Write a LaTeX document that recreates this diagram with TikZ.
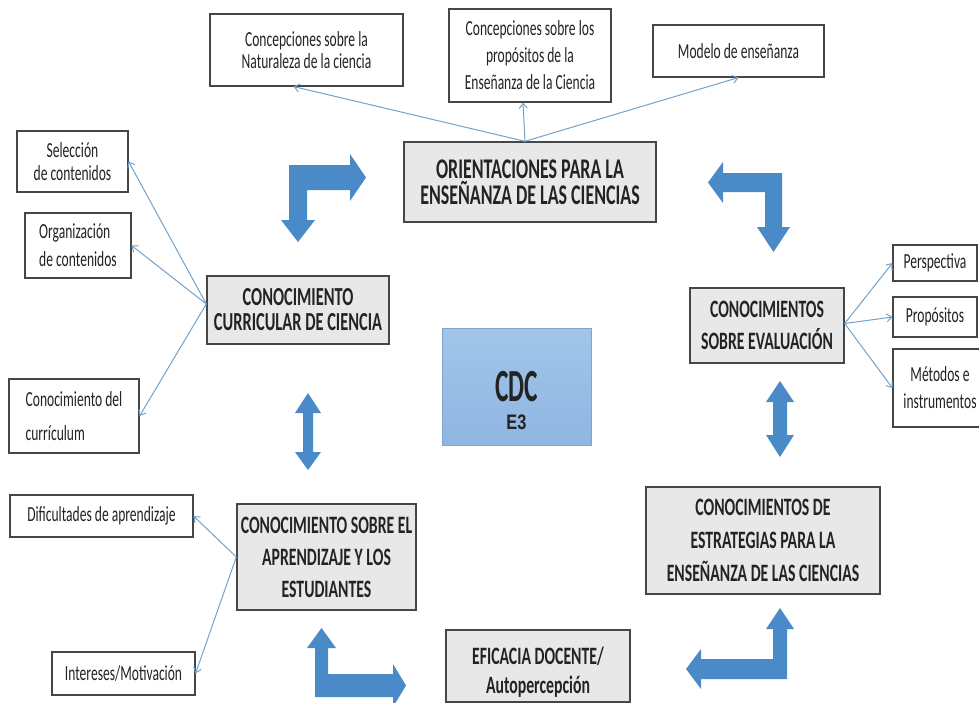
\documentclass[tikz,border=0pt]{standalone}
\usepackage{fontspec}
\setmainfont{Carlito}[FakeStretch=0.63]
\newfontfamily\cdcfont{Carlito}[FakeStretch=0.55]
\newfontfamily\arialfont{Liberation Sans}[FakeStretch=0.78]
\usetikzlibrary{arrows.meta}
\definecolor{arrowblue}{RGB}{74,138,200}
\definecolor{linkblue}{RGB}{115,162,203}
\definecolor{boxgray}{RGB}{232,232,232}
\definecolor{boxedge}{RGB}{70,70,70}
\definecolor{cdctop}{RGB}{162,197,234}
\definecolor{cdcbot}{RGB}{143,181,225}
\definecolor{cdcedge}{RGB}{128,164,205}
\definecolor{txt}{RGB}{35,35,35}
\begin{document}
\begin{tikzpicture}[x=1pt,y=-1pt,
  sz/.style 2 args={minimum width=#1pt,minimum height=#2pt},
  smallbox/.style={draw=boxedge, line width=1.1pt, fill=white, text=txt, inner sep=0pt, align=center, font=\fontsize{21.5}{25}\selectfont},
  mainbox/.style={draw=boxedge, line width=1.4pt, fill=boxgray, text=txt, inner sep=0pt, align=center, font=\fontsize{25}{32}\selectfont\bfseries},
  boxlabel/.style={text=txt, inner sep=0pt, align=center},
  link/.style={draw=linkblue, line width=1pt, -{Straight Barb[length=5pt,width=8pt]}},
  blockarrow/.style={fill=arrowblue, draw=none}]
\clip (0,0) rectangle (979,702);
\fill[white] (0,0) rectangle (979,702);

% top small boxes
\node[smallbox, sz={193}{72}, font=\fontsize{21.5}{22}\selectfont] (nat) at (306.5,50) {Concepciones sobre la\\Naturaleza de la ciencia};
\node[smallbox, sz={162}{93}, font=\fontsize{21.5}{27}\selectfont] (prop) at (530,55.5) {Concepciones sobre los\\propósitos de la\\Enseñanza de la Ciencia};
\node[smallbox, sz={171}{52}] (mod) at (738.5,51) {Modelo de enseñanza};

% main boxes
\node[mainbox, sz={252}{80}, font=\fontsize{28.5}{26}\selectfont\bfseries] (ori) at (530,182) {ORIENTACIONES PARA LA\\ENSEÑANZA DE LAS CIENCIAS};
\node[mainbox, sz={182}{68}, font=\fontsize{26}{25}\selectfont\bfseries] (ccc) at (298,310) {CONOCIMIENTO\\CURRICULAR DE CIENCIA};
\node[mainbox, sz={154}{75}] (eva) at (767,325.5) {CONOCIMIENTOS\\SOBRE EVALUACIÓN};
\node[mainbox, sz={179}{106}] (apr) at (326.5,557) {CONOCIMIENTO SOBRE EL\\APRENDIZAJE Y LOS\\ESTUDIANTES};
\node[mainbox, sz={234}{107}, font=\fontsize{25}{33}\selectfont\bfseries] (est) at (763,540.5) {CONOCIMIENTOS DE\\ESTRATEGIAS PARA LA\\ENSEÑANZA DE LAS CIENCIAS};
\node[mainbox, sz={184}{72}] (efi) at (538,666) {};
\node[boxlabel, font=\fontsize{25}{29}\selectfont\bfseries, yshift=-6pt] (efilabel) at (efi.center) {EFICACIA DOCENTE/\\Autopercepción};

% left small boxes
\node[smallbox, sz={111}{61}, font=\fontsize{21.5}{23}\selectfont] (sel) at (72.5,161.5) {Selección\\de contenidos};
\node[smallbox, sz={106}{65}, font=\fontsize{21.5}{28}\selectfont, align=left] (org) at (78,245.5) {Organización\\de contenidos};
\node[smallbox, sz={130}{74}, font=\fontsize{21.5}{34}\selectfont, align=left] (cur) at (74,416) {Conocimiento del\\currículum};
\node[smallbox, sz={183}{42}] (dif) at (101.5,516) {Dificultades de aprendizaje};
\node[smallbox, sz={143}{43}] (int) at (123.5,673.5) {Intereses/Motivación};

% right small boxes
\node[smallbox, sz={84}{36}] (per) at (935,263) {Perspectiva};
\node[smallbox, sz={84}{40}] (pro2) at (935,317) {Propósitos};
\node[smallbox, sz={94}{78}, font=\fontsize{21.5}{27}\selectfont] (met) at (940,388) {Métodos e\\instrumentos};

% centre
\node[draw=cdcedge, line width=1pt, top color=cdctop, bottom color=cdcbot, sz={149}{117}, inner sep=0pt] (cdc) at (516.5,386.5) {};
\node[boxlabel, font=\fontsize{46}{28}\selectfont, yshift=-14pt] (cdclabel) at (cdc.center)
  {{\cdcfont\bfseries CDC}\\{\arialfont\bfseries\fontsize{21}{21}\selectfont E3}};

% thin connectors
\draw[link] ([xshift=-5pt]ori.north) -- ([xshift=-13pt]nat.south);
\draw[link] ([xshift=-5pt]ori.north) -- ([xshift=-7pt]prop.south);
\draw[link] ([xshift=-5pt]ori.north) -- (mod.south);
\draw[link] ([yshift=6pt]ccc.west) -- (sel.east);
\draw[link] ([yshift=6pt]ccc.west) -- (org.east);
\draw[link] ([yshift=6pt]ccc.west) -- (cur.east);
\draw[link] (apr.west) -- (dif.east);
\draw[link] (apr.west) -- (int.east);
\draw[link] ([yshift=2pt]eva.east) -- (per.west);
\draw[link] ([yshift=2pt]eva.east) -- (pro2.west);
\draw[link] ([yshift=2pt]eva.east) -- (met.west);

% block arrows
\fill[blockarrow] (289,165) -- (350,165) -- (350,154) -- (366,177.5) -- (350,201) -- (350,190) -- (307,190) -- (307,220) -- (315,220) -- (298,242) -- (281,220) -- (289,220) -- cycle;
\fill[blockarrow] (782,173) -- (723,173) -- (723,162) -- (708,182.5) -- (723,203) -- (723,192) -- (765,192) -- (765,227) -- (757,227) -- (773.5,252) -- (790,227) -- (782,227) -- cycle;
\fill[blockarrow] (315,648) -- (307,648) -- (321.5,628) -- (336,648) -- (328,648) -- (328,674) -- (393,674) -- (393,664) -- (406,685.5) -- (393,707) -- (393,697) -- (315,697) -- cycle;
\fill[blockarrow] (773,629) -- (766,629) -- (780,608) -- (794,629) -- (787,629) -- (787,679) -- (701,679) -- (701,689) -- (686,669) -- (701,649) -- (701,659) -- (773,659) -- cycle;
\fill[blockarrow] (308,393) -- (321,413) -- (313,413) -- (313,452) -- (321,452) -- (308,470) -- (295,452) -- (303,452) -- (303,413) -- (295,413) -- cycle;
\fill[blockarrow] (780,381) -- (794,402) -- (787,402) -- (787,435) -- (794,435) -- (780,457) -- (766,435) -- (773,435) -- (773,402) -- (766,402) -- cycle;
\end{tikzpicture}
\end{document}
